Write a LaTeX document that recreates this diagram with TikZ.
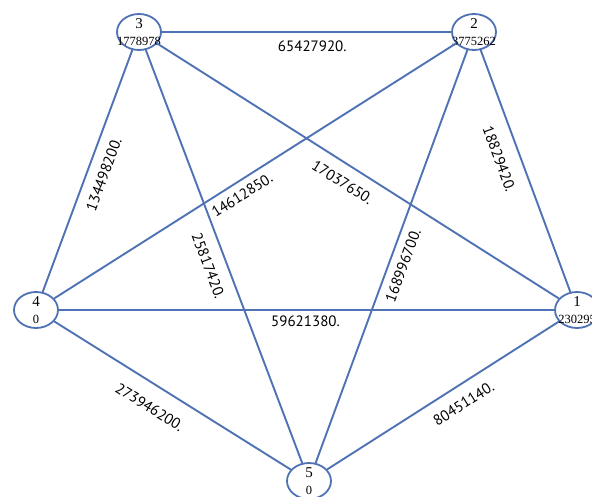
\documentclass[tikz,border=0pt]{standalone}
\usepackage{fontspec}
\setmainfont{Liberation Serif}
\newfontfamily\labfont{PT Sans}
\usetikzlibrary{shapes.geometric}
\definecolor{edgecol}{RGB}{79,114,180}
\begin{document}
\begin{tikzpicture}[x=1pt,y=-1pt,
  gnode/.style={ellipse,draw=edgecol,line width=1.8pt,minimum width=44pt,minimum height=36pt,inner sep=0pt,fill=white},
  numlab/.style={font=\fontsize{15}{15}\selectfont,inner sep=0pt,yshift=8pt},
  vallab/.style={font=\fontsize{12.5}{12.5}\selectfont,inner sep=0pt,yshift=-9pt},
  edge/.style={draw=edgecol,line width=1.9pt},
  wlab/.style={font=\labfont\fontsize{15}{15}\selectfont,sloped,inner sep=0pt}]
\useasboundingbox (0,0) rectangle (592,497);
\node[gnode,label={[numlab]center:3},label={[vallab]center:1778978}] (n3) at (139,32) {};
\node[gnode,label={[numlab]center:2},label={[vallab]center:3775262}] (n2) at (474,32) {};
\node[gnode,label={[numlab]center:4},label={[vallab]center:0}] (n4) at (36,310) {};
\node[gnode,label={[numlab]center:1},label={[vallab]center:230295}] (n1) at (577,310) {};
\node[gnode,label={[numlab]center:5},label={[vallab]center:0}] (n5) at (309,481) {};
\draw[edge] (n3) -- (n2) node[wlab,pos=0.52,below=8pt] {65427920.};
\draw[edge] (n4) -- (n3) node[wlab,pos=0.51,below=10pt] {134498200.};
\draw[edge] (n4) -- (n2) node[wlab,pos=0.45,below=7pt] {14612850.};
\draw[edge] (n3) -- (n1) node[wlab,pos=0.485,below=11.5pt] {17037650.};
\draw[edge] (n3) -- (n5) node[wlab,pos=0.507,below=11.5pt] {25817420.};
\draw[edge] (n2) -- (n1) node[wlab,pos=0.42,below=14pt] {18829420.};
\draw[edge] (n2) -- (n5) node[wlab,pos=0.51,below=7.5pt] {168996700.};
\draw[edge] (n4) -- (n1) node[wlab,pos=0.498,below=4.7pt] {59621380.};
\draw[edge] (n4) -- (n5) node[wlab,pos=0.452,below=15.5pt] {273946200.};
\draw[edge] (n5) -- (n1) node[wlab,pos=0.547,below=11.5pt] {80451140.};
\end{tikzpicture}
\end{document}
